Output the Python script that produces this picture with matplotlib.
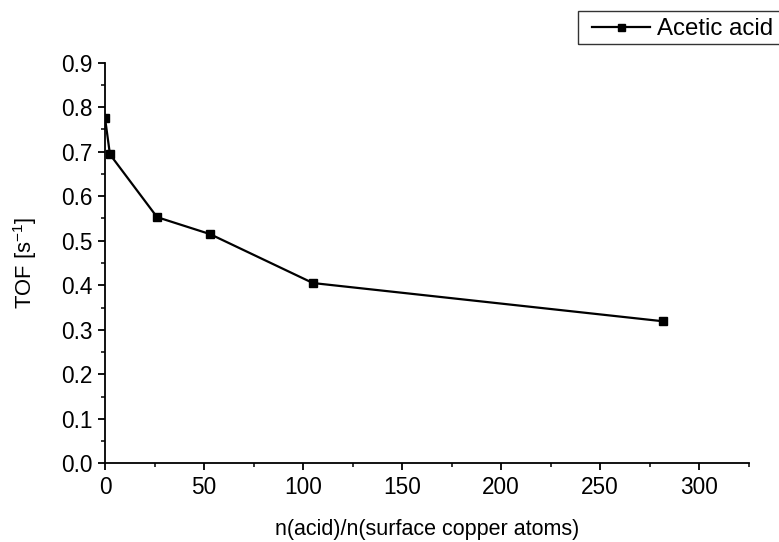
import matplotlib
matplotlib.use("Agg")
import matplotlib.pyplot as plt
from matplotlib.ticker import MultipleLocator
from matplotlib.patches import Rectangle

plt.rcParams['font.family'] = ['Liberation Sans', 'DejaVu Sans']

x_vals = [0, 2.5, 26.3, 53, 105, 282]
tof_vals = [0.776, 0.694, 0.553, 0.515, 0.405, 0.319]
series_label = "Acetic acid"

W, H = 779, 542
fig = plt.figure(figsize=(W / 100, H / 100), dpi=100)
ax = fig.add_axes([105 / W, 1 - 463.3 / H, (748.5 - 105) / W, (463.3 - 62.7) / H])

ax.plot(x_vals, tof_vals, color='black', lw=1.6, marker='s', markersize=5.6,
        markeredgewidth=1.0, label=series_label)

ax.set_xlim(0, 325)
ax.set_ylim(0, 0.9)
ax.xaxis.set_major_locator(MultipleLocator(50))
ax.xaxis.set_minor_locator(MultipleLocator(25))
ax.yaxis.set_major_locator(MultipleLocator(0.1))
ax.yaxis.set_minor_locator(MultipleLocator(0.05))
ax.yaxis.set_major_formatter(plt.FuncFormatter(lambda v, p: f"{v:.1f}"))

for s in ['top', 'right']:
    ax.spines[s].set_visible(False)
for s in ['left', 'bottom']:
    ax.spines[s].set_linewidth(1.3)

ax.tick_params(which='major', direction='out', length=5, width=1.3, labelsize=16.3, pad=4)
ax.tick_params(which='minor', direction='out', length=3, width=1.1)

ax.set_xlabel("n(acid)/n(surface copper atoms)", fontsize=15.5)
ax.set_ylabel("TOF [s$^{\\mathregular{-1}}$]", fontsize=15.8)
ax.xaxis.set_label_coords(0.5, -0.1385)
ax.yaxis.set_label_coords(-0.1033, 0.5)

# legend frame (drawn in figure pixels, extends past the right edge)
fig.patches.append(Rectangle((578 / W, 1 - 44 / H), 260 / W, 33 / H,
                             transform=fig.transFigure, fill=False,
                             edgecolor='#333333', lw=1.0))
leg = fig.legend(loc='upper left', bbox_to_anchor=(592 / W, 1 - 18 / H),
                 fontsize=17.3, frameon=False, borderpad=0, handlelength=2.42,
                 handletextpad=0.3, borderaxespad=0, markerscale=0.9)

fig.savefig("out.png", dpi=100)
